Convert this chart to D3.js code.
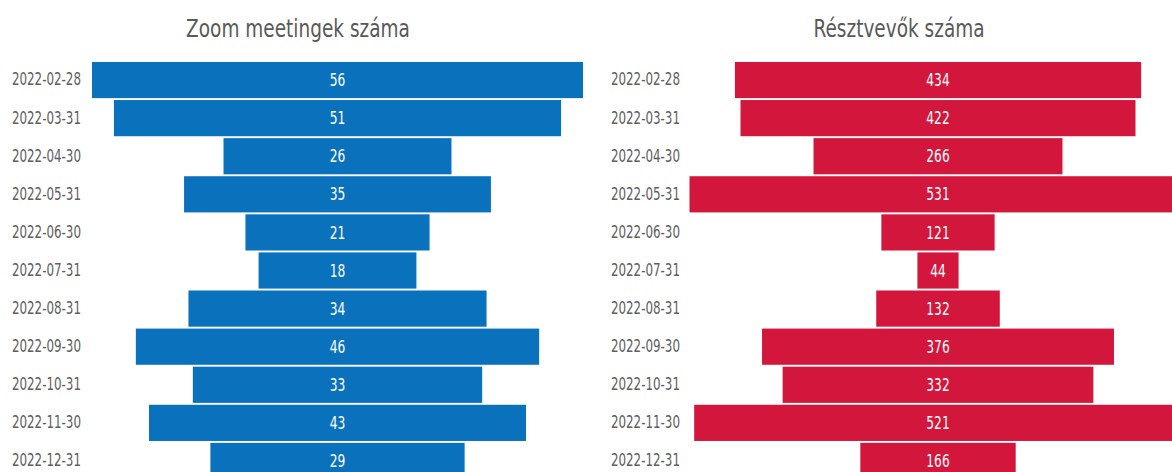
<!DOCTYPE html>
<html>
<head>
<meta charset="utf-8">
<script src="https://cdn.jsdelivr.net/npm/d3@7"></script>
<style>
  body { margin: 0; background: #fff; }
  svg { display: block; font-family: "DejaVu Sans", sans-serif; }
</style>
</head>
<body>
<div id="chart"></div>
<script>
const dates = ['2022-02-28', '2022-03-31', '2022-04-30', '2022-05-31', '2022-06-30', '2022-07-31',
  '2022-08-31', '2022-09-30', '2022-10-31', '2022-11-30', '2022-12-31'];
const meetings = [56, 51, 26, 35, 21, 18, 34, 46, 33, 43, 29];
const participants = [434, 422, 266, 531, 121, 44, 132, 376, 332, 521, 166];
const titles = ['Zoom meetingek száma', 'Résztvevők száma'];

const width = 1172;
const height = 472;
const narrow = 0.7; // the original font is a condensed one

const svg = d3.select('#chart')
  .append('svg')
  .attr('width', width)
  .attr('height', height);

const yScale = d3.scaleBand()
  .domain(dates)
  .range([61, 480])
  .paddingInner(0.05)
  .paddingOuter(0.025);

// each panel: its own centred width scale
const panels = [
  { title: titles[0], values: meetings, color: '#0a72bd', labelX: 81, center: 337.5, titleX: 298,
    scale: d3.scaleLinear().domain([0, 56]).range([0, 491]) },
  { title: titles[1], values: participants, color: '#d3163b', labelX: 680, center: 938, titleX: 899,
    scale: d3.scaleLinear().domain([0, 531]).range([0, 497]) }
];

panels.forEach(p => {
  const g = svg.append('g');

  // Title
  g.append('text')
    .attr('transform', `translate(${p.titleX},37) scale(0.74,1)`)
    .attr('text-anchor', 'middle')
    .attr('fill', '#595959')
    .style('font-size', '25px')
    .text(p.title);

  // Date labels
  const axis = g.append('g')
    .attr('transform', `translate(${p.labelX},0)`)
    .call(d3.axisLeft(yScale).tickSize(0).tickPadding(0));
  axis.select('.domain').remove();
  axis.selectAll('text')
    .attr('transform', `scale(${narrow},1)`)
    .attr('fill', '#5e5e5e')
    .style('font-size', '17px')
    .style('font-family', '"DejaVu Sans", sans-serif');

  const rows = dates.map((d, i) => ({ date: d, value: p.values[i] }));

  // Bars centred on the panel axis
  g.selectAll('.bar')
    .data(rows)
    .enter().append('rect')
    .attr('class', 'bar')
    .attr('x', d => p.center - p.scale(d.value) / 2)
    .attr('y', d => yScale(d.date))
    .attr('width', d => p.scale(d.value))
    .attr('height', yScale.bandwidth())
    .attr('fill', p.color);

  // Value labels
  g.selectAll('.val')
    .data(rows)
    .enter().append('text')
    .attr('class', 'val')
    .attr('transform', d => `translate(${p.center},${yScale(d.date) + yScale.bandwidth() / 2}) scale(0.72,1)`)
    .attr('dy', '0.36em')
    .attr('text-anchor', 'middle')
    .attr('fill', '#fff')
    .style('font-size', '17px')
    .text(d => d.value);
});
</script>
</body>
</html>
